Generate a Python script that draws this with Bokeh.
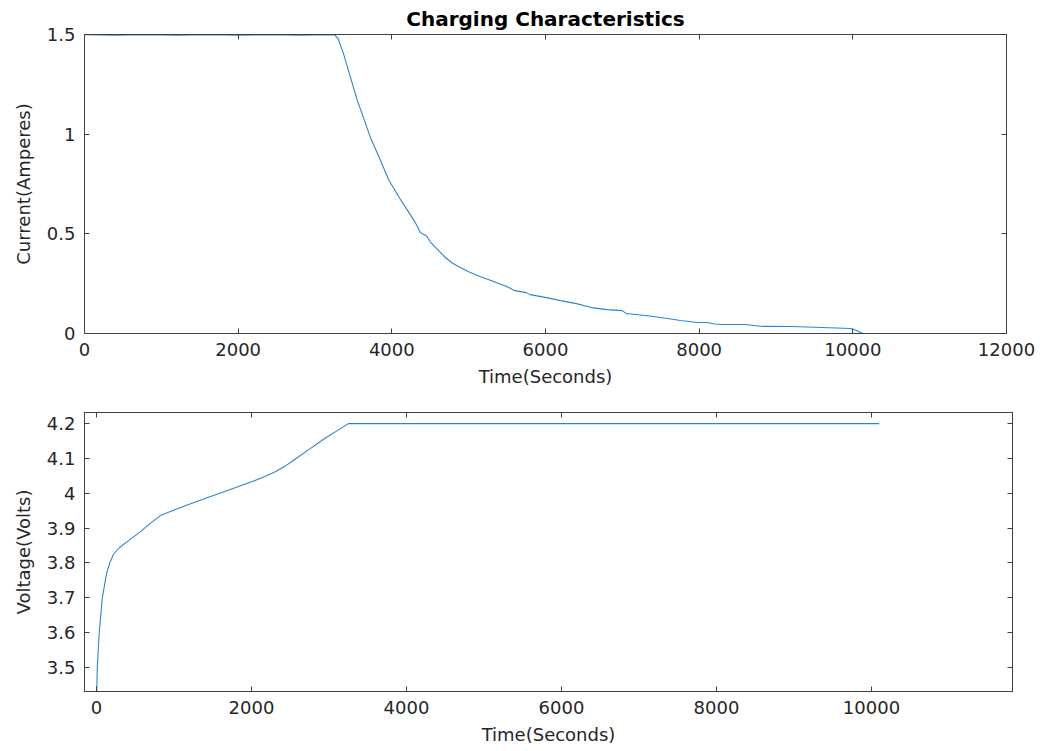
from bokeh.plotting import figure
from bokeh.layouts import column, row
from bokeh.models import LinearAxis, FixedTicker, Range1d, Title
from bokeh.embed import file_html
from bokeh.resources import INLINE

# Current (top panel)
cur_t = [0, 400, 800, 1200, 1600, 2000, 2400, 2800, 3250, 3300, 3370, 3450, 3550, 3720, 3850, 3960,
         4100, 4200, 4300, 4373, 4450, 4500, 4600, 4700, 4800, 4900, 5000, 5154, 5300,
         5400, 5500, 5600, 5750, 5800, 6013, 6200, 6400, 6600, 6800, 7000, 7050, 7300,
         7500, 7757, 7980, 8100, 8200, 8300, 8600, 8800, 9200, 9600, 9970, 10050, 10126]
cur_i = [1.499, 1.496, 1.499, 1.497, 1.499, 1.496, 1.499, 1.497, 1.499, 1.48, 1.405, 1.30, 1.17, 0.985, 0.87, 0.77,
         0.68, 0.62, 0.56, 0.505, 0.49, 0.46, 0.42, 0.38, 0.35, 0.33, 0.31, 0.285, 0.265,
         0.25, 0.235, 0.215, 0.205, 0.195, 0.18, 0.165, 0.15, 0.13, 0.12, 0.115, 0.10, 0.09,
         0.08, 0.065, 0.055, 0.055, 0.048, 0.045, 0.045, 0.036, 0.035, 0.03, 0.025, 0.015, 0.0]

# Voltage (bottom panel)
volt_t = [0, 10, 35, 75, 130, 170, 220, 290, 400, 568, 700, 826, 1000, 1213, 1400, 1690,
          2000, 2150, 2300, 2420, 2540, 2730, 2930, 3250, 10100]
volt_v = [3.40, 3.50, 3.60, 3.70, 3.77, 3.80, 3.825, 3.843, 3.862, 3.89, 3.915, 3.936, 3.952, 3.97,
          3.985, 4.008, 4.033, 4.046, 4.061, 4.076, 4.094, 4.124, 4.155, 4.20, 4.20]

top_xticks = [0, 2000, 4000, 6000, 8000, 10000, 12000]
top_yticks = [0, 0.5, 1, 1.5]
top_ylabels = ["0", "0.5", "1", "1.5"]
bot_xticks = [0, 2000, 4000, 6000, 8000, 10000]
bot_yticks = [3.5, 3.6, 3.7, 3.8, 3.9, 4.0, 4.1, 4.2]
bot_ylabels = ["3.5", "3.6", "3.7", "3.8", "3.9", "4", "4.1", "4.2"]

FONT = "DejaVu Sans"
TXT = "#262626"
AX = "#404040"
LINE = "#2a86d1"


def style_axis(ax, ticks, labels=None, show_labels=True):
    ax.ticker = FixedTicker(ticks=ticks)
    ax.minor_tick_line_color = None
    ax.major_tick_in = 5
    ax.major_tick_out = 0
    ax.axis_line_color = AX
    ax.major_tick_line_color = AX
    if show_labels:
        if labels is not None:
            ax.major_label_overrides = {t: l for t, l in zip(ticks, labels)}
        else:
            ax.major_label_overrides = {t: str(int(t)) for t in ticks}
        ax.major_label_text_font = FONT
        ax.major_label_text_font_size = "18px"
        ax.major_label_text_color = TXT
        ax.major_label_standoff = 9
        ax.axis_label_text_font = FONT
        ax.axis_label_text_font_size = "18px"
        ax.axis_label_text_font_style = "normal"
        ax.axis_label_text_color = TXT
        ax.axis_label_standoff = 7
    else:
        ax.major_label_text_color = None
        ax.major_label_standoff = 0


def make_fig(w, h, xr, yr, b_left, b_right, b_top, b_bottom):
    p = figure(width=w, height=h, output_backend="svg", toolbar_location=None,
               x_range=Range1d(*xr), y_range=Range1d(*yr),
               min_border_left=b_left, min_border_right=b_right,
               min_border_top=b_top, min_border_bottom=b_bottom)
    p.xgrid.visible = False
    p.ygrid.visible = False
    p.outline_line_color = AX
    p.background_fill_color = "white"
    p.border_fill_color = "white"
    return p


# Top figure
p1 = make_fig(1046, 395, (0, 12000), (0, 1.5), 84, 40, 34, 62)
p1.line(cur_t, cur_i, line_color=LINE, line_width=1.1)
style_axis(p1.xaxis[0], top_xticks)
style_axis(p1.yaxis[0], top_yticks, top_ylabels)
p1.xaxis[0].axis_label = "Time(Seconds)"
p1.yaxis[0].axis_label = "Current(Amperes)"
p1.yaxis[0].axis_label_standoff = 10
ax_top = LinearAxis()
style_axis(ax_top, top_xticks, show_labels=False)
p1.add_layout(ax_top, "above")
ax_right = LinearAxis()
style_axis(ax_right, top_yticks, show_labels=False)
p1.add_layout(ax_right, "right")
p1.add_layout(Title(text="Charging Characteristics", align="center",
                    text_font=FONT, text_font_size="20px", text_font_style="bold",
                    text_color="black", standoff=7), "above")

# Bottom figure
p2 = make_fig(1046, 356, (-155, 11820), (3.431, 4.232), 84, 34, 17, 60)
p2.line(volt_t, volt_v, line_color=LINE, line_width=1.1)
style_axis(p2.xaxis[0], bot_xticks)
style_axis(p2.yaxis[0], bot_yticks, bot_ylabels)
p2.xaxis[0].axis_label = "Time(Seconds)"
p2.yaxis[0].axis_label = "Voltage(Volts)"
p2.yaxis[0].axis_label_standoff = 10
ax_top2 = LinearAxis()
style_axis(ax_top2, bot_xticks, show_labels=False)
p2.add_layout(ax_top2, "above")
ax_right2 = LinearAxis()
style_axis(ax_right2, bot_yticks, show_labels=False)
p2.add_layout(ax_right2, "right")

layout = column(row(p1), row(p2), spacing=0)
open("out.html", "w").write(file_html(layout, INLINE))
